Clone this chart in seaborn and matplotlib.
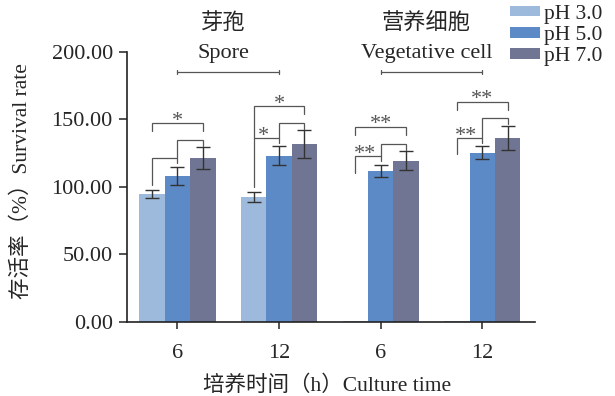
import numpy as np
import pandas as pd
import matplotlib
matplotlib.use('Agg')
import matplotlib.pyplot as plt
import seaborn as sns
from matplotlib.patches import Patch

# Data
groups = ['Spore 6', 'Spore 12', 'Vegetative 6', 'Vegetative 12']
tick_labels = ['6', '12', '6', '12']
ph_levels = ['pH 3.0', 'pH 5.0', 'pH 7.0']
mean_ph3 = [94.6, 92.4, 0.5, 0.5]
mean_ph5 = [108.1, 122.8, 111.8, 125.3]
mean_ph7 = [121.1, 131.5, 119.4, 136.1]
err_ph3 = [3.3, 3.8, 0.0, 0.0]
err_ph5 = [6.8, 7.0, 4.6, 4.9]
err_ph7 = [8.0, 10.3, 7.0, 9.0]
sig_3v5 = ['', '*', '**', '**']
sig_3v7 = ['*', '*', '**', '**']
cell_types = [('芽孢', 'Spore'), ('营养细胞', 'Vegetative cell')]
colors = ['#9dbadc', '#5b8ac6', '#6f7592']

df = pd.DataFrame({
    'group': groups * 3,
    'ph': np.repeat(ph_levels, len(groups)),
    'rate': mean_ph3 + mean_ph5 + mean_ph7,
})

sns.set_style('ticks')
plt.rcParams['font.family'] = ['Liberation Serif', 'Noto Sans CJK SC']
plt.rcParams['axes.unicode_minus'] = False

fig = plt.figure(figsize=(6.15, 3.96), dpi=100)
ax = fig.add_axes([0.206, 0.1876, 0.664, 0.6818])

sns.barplot(data=df, x='group', y='rate', hue='ph', order=groups,
            hue_order=ph_levels, palette=colors, width=0.75, errorbar=None,
            linewidth=0, saturation=1, legend=False, ax=ax)

# bar geometry from the drawn bars
centers = np.array([[p.get_x() + p.get_width() / 2 for p in c] for c in ax.containers])
tops = np.array([[p.get_height() for p in c] for c in ax.containers])
errs = np.array([err_ph3, err_ph5, err_ph7])

for k in range(3):
    m = errs[k] > 0
    ax.errorbar(centers[k][m], tops[k][m], yerr=errs[k][m], fmt='none',
                ecolor='#333333', elinewidth=1, capsize=5, capthick=1, zorder=3)

# significance brackets
lc = '#555555'
def bracket(x1, x2, level, drop1, drop2):
    ax.plot([x1, x1, x2, x2], [drop1, level, level, drop2], color=lc, lw=0.9,
            solid_joinstyle='miter', clip_on=False, zorder=4)

upper = tops + errs
for i in range(len(groups)):
    c3, c5, c7 = centers[:, i]
    low = upper[1, i] + 6
    mid = upper[2, i] + 5.5
    top = mid + 12.5
    has_ph3 = mean_ph3[i] > 5
    left_low = upper[0, i] + 3.5 if has_ph3 else low - 12
    bracket(c3, c5, low, left_low, low - 3.5)
    bracket(c5, c7, mid, low, mid - 4.5)
    top_leg = low if (has_ph3 and sig_3v5[i]) else top - 6
    bracket(c3, c7, top, top_leg, top - 6)
    if sig_3v5[i]:
        ax.text((c3 + c5) / 2 - 0.03, low - 2, sig_3v5[i], ha='center',
                va='baseline', fontsize=16, color=lc)
    ax.text((c3 + c7) / 2, top - 2, sig_3v7[i], ha='center',
            va='baseline', fontsize=16, color=lc)

# cell type headers
for j, (cn, en) in enumerate(cell_types):
    x0, x1 = 2 * j, 2 * j + 1
    y = 184.7
    ax.plot([x0, x1], [y, y], color=lc, lw=0.9, clip_on=False)
    ax.plot([x0, x0], [y - 1.5, y + 1.5], color=lc, lw=0.9, clip_on=False)
    ax.plot([x1, x1], [y - 1.5, y + 1.5], color=lc, lw=0.9, clip_on=False)
    xm = (x0 + x1) / 2 - 0.05
    ax.text(xm, 198.6, en, ha='center', va='center', fontsize=16, clip_on=False)
    ax.text(xm, 221, cn, ha='center', va='center', fontsize=16, clip_on=False)

ax.set_ylim(0, 200)
ax.set_xlim(-0.5, 3.52)
ax.set_yticks([0, 50, 100, 150, 200])
ax.set_yticklabels([f'{v:.2f}' for v in [0, 50, 100, 150, 200]])
ax.set_xticks(range(len(groups)))
ax.set_xticklabels(tick_labels)
ax.tick_params(axis='y', labelsize=16, length=6, width=1.1, pad=4, color='#222222')
ax.tick_params(axis='x', labelsize=16, length=5, width=1.1, pad=11, color='#222222')
for s in ['left', 'bottom']:
    ax.spines[s].set_linewidth(1.2)
    ax.spines[s].set_color('#222222')
sns.despine(ax=ax)

ax.set_ylabel('存活率（%）Survival rate', fontsize=15.5)
ax.yaxis.set_label_coords(-0.232, 0.52)
ax.set_xlabel('培养时间（h）Culture time', fontsize=15.5)
ax.xaxis.set_label_coords(0.49, -0.2)

handles = [Patch(facecolor=c, edgecolor='none', label=l) for c, l in zip(colors, ph_levels)]
fig.legend(handles=handles, loc='upper left', bbox_to_anchor=(510 / 615, 1 - 5 / 396),
           frameon=False, fontsize=15.5, borderpad=0, borderaxespad=0,
           handlelength=1.4, handleheight=0.35, handletextpad=0.2, labelspacing=0.1)

fig.savefig('out.png', dpi=100)
